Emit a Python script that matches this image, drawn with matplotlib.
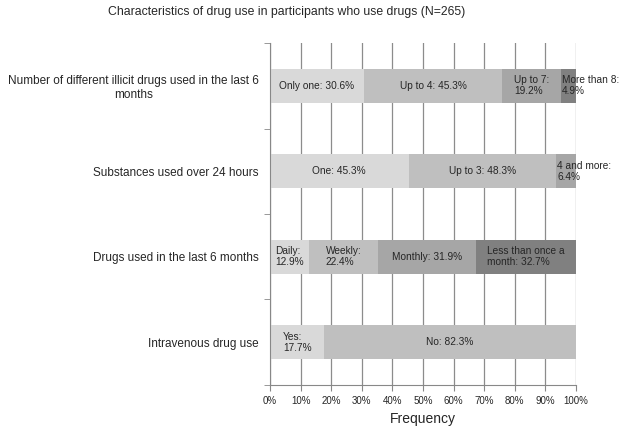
import matplotlib
matplotlib.use("Agg")
import matplotlib.pyplot as plt

plt.rcParams['font.family'] = ['Liberation Sans', 'DejaVu Sans']

# categories, top to bottom
rows = ["Number of different illicit drugs used in the last 6\nmonths",
        "Substances used over 24 hours",
        "Drugs used in the last 6 months",
        "Intravenous drug use"]

n_drugs_labels = ["Only one", "Up to 4", "Up to 7", "More than 8"]
n_drugs_pct = [30.6, 45.3, 19.2, 4.9]

substances_labels = ["One", "Up to 3", "4 and more"]
substances_pct = [45.3, 48.3, 6.4]

freq_labels = ["Daily", "Weekly", "Monthly", "Less than once a\nmonth"]
freq_pct = [12.9, 22.4, 31.9, 32.7]

iv_labels = ["Yes", "No"]
iv_pct = [17.7, 82.3]

segments = [(n_drugs_labels, n_drugs_pct),
            (substances_labels, substances_pct),
            (freq_labels, freq_pct),
            (iv_labels, iv_pct)]

greys = ['#d9d9d9', '#bfbfbf', '#a6a6a6', '#808080']
txt = '#262626'

fig = plt.figure(figsize=(6.25, 4.28), dpi=100)
ax = fig.add_axes([0.432, 0.1005, 0.4896, 0.799])

n = len(rows)
for i, (labels, pct) in enumerate(segments):
    y = n - 1 - i
    left = 0
    for j, (lab, p) in enumerate(zip(labels, pct)):
        ax.barh(y, p, left=left, height=0.4, color=greys[j], zorder=2)
        if p < 25 and '\n' not in lab:
            s = f"{lab}:\n{p}%"
        else:
            s = f"{lab}: {p}%"
        if p < 8:
            ax.text(left + 0.3, y, s, ha='left', va='center', fontsize=7.3,
                    color=txt, linespacing=1.1, zorder=3)
        else:
            ax.text(left + p / 2, y, s, ha='center', va='center', fontsize=7.3,
                    color=txt, multialignment='left', linespacing=1.1, zorder=3)
        left += p

ax.set_xlim(0, 100)
ax.set_ylim(-0.5, n - 0.5)
ax.set_xticks(range(0, 101, 10))
ax.set_xticklabels([f"{v}%" for v in range(0, 101, 10)], fontsize=7, color=txt)
ax.set_yticks(range(n))
ax.set_yticklabels(rows[::-1], fontsize=8.5, color=txt, multialignment='center')
ax.set_yticks([k - 0.5 for k in range(n + 1)], minor=True)
ax.tick_params(axis='y', which='major', length=0, pad=8)
ax.tick_params(axis='y', which='minor', length=4, color='#888888')
ax.tick_params(axis='x', length=4, color='#888888', pad=4)

ax.grid(axis='x', color='#8c8c8c', linewidth=0.9, zorder=0)
ax.set_axisbelow(True)
for side in ['top', 'right']:
    ax.spines[side].set_visible(False)
for side in ['left', 'bottom']:
    ax.spines[side].set_color('#888888')

ax.set_xlabel("Frequency", fontsize=10, color=txt, labelpad=4)
fig.suptitle("Characteristics of drug use in participants who use drugs (N=265)",
             x=0.458, y=0.985, fontsize=8.8, color=txt)

fig.savefig("out.png", dpi=100)
